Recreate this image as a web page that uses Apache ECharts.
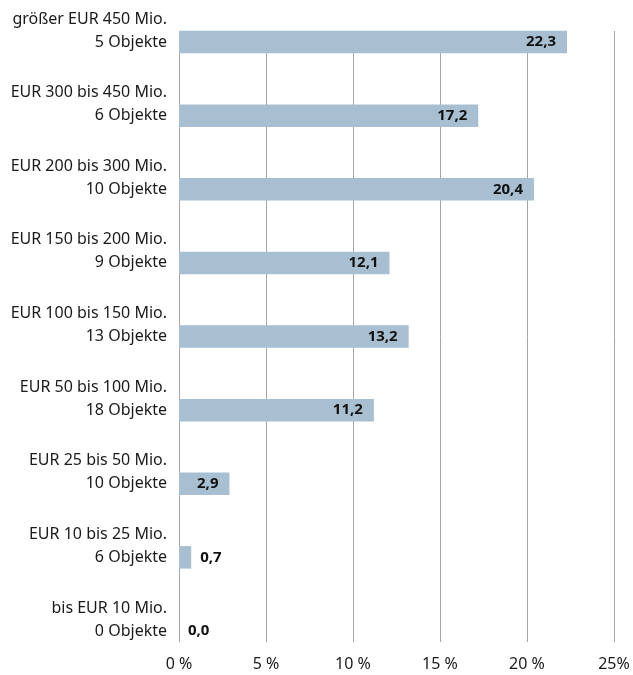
<!DOCTYPE html>
<html>
<head>
<meta charset="utf-8">
<script src="https://cdn.jsdelivr.net/npm/echarts@6/dist/echarts.min.js"></script>
<style>
  html, body { margin: 0; padding: 0; background: #ffffff; }
  #chart { width: 633px; height: 675px; }
</style>
</head>
<body>
<div id="chart"></div>
<script>
// Categories (top to bottom)
const rangeLabels = [
  'größer EUR 450 Mio.',
  'EUR 300 bis 450 Mio.',
  'EUR 200 bis 300 Mio.',
  'EUR 150 bis 200 Mio.',
  'EUR 100 bis 150 Mio.',
  'EUR 50 bis 100 Mio.',
  'EUR 25 bis 50 Mio.',
  'EUR 10 bis 25 Mio.',
  'bis EUR 10 Mio.'
];
const objectCounts = [5, 6, 10, 9, 13, 18, 10, 6, 0];
// Share in percent
const shareValues = [22.3, 17.2, 20.4, 12.1, 13.2, 11.2, 2.9, 0.7, 0.0];
// X axis tick labels
const xTickLabels = ['0 %', '5 %', '10 %', '15 %', '20 %', '25%'];

const categories = rangeLabels.map((r, i) => r + '\n' + objectCounts[i] + ' Objekte\n ');
const fmt = v => v.toFixed(1).replace('.', ',');

const gridColor = '#a6a6a6';
const fontFamily = '"Noto Sans", "Open Sans", sans-serif';

const chart = echarts.init(document.getElementById('chart'), null, { renderer: 'canvas' });

const barData = shareValues.map(v => {
  const outside = v < 2;
  return {
    value: v,
    label: outside
      ? { position: 'right', distance: 9 }
      : { position: 'insideRight', distance: 11 }
  };
});

const xBase = {
  type: 'value',
  min: 0,
  max: 25,
  interval: 5,
  axisLine: { show: false },
  axisTick: { show: true, length: 11, lineStyle: { color: gridColor, width: 1 } }
};

chart.setOption({
  animation: false,
  backgroundColor: '#ffffff',
  grid: { left: 179, right: 19, top: 42, bottom: 44, containLabel: false },
  xAxis: [
    Object.assign({}, xBase, {
      position: 'bottom',
      splitLine: { show: true, lineStyle: { color: gridColor, width: 1 } },
      axisLabel: {
        margin: 25,
        fontSize: 16,
        color: '#1a1a1a',
        fontFamily: fontFamily,
        formatter: (v) => xTickLabels[Math.round(v / 5)]
      }
    }),
    Object.assign({}, xBase, {
      position: 'top',
      splitLine: { show: false },
      axisLabel: { show: false }
    })
  ],
  yAxis: {
    type: 'category',
    inverse: true,
    boundaryGap: false,
    data: categories,
    axisLine: { show: false },
    axisTick: { show: false },
    splitLine: { show: false },
    axisLabel: {
      margin: 12,
      fontSize: 16,
      lineHeight: 23,
      color: '#1a1a1a',
      fontFamily: fontFamily,
      align: 'right',
      verticalAlign: 'middle'
    }
  },
  series: [{
    type: 'bar',
    xAxisIndex: 0,
    data: barData,
    barWidth: 22.5,
    itemStyle: { color: '#a7bfd1' },
    label: {
      show: true,
      fontSize: 15,
      fontWeight: 'bold',
      color: '#111111',
      fontFamily: fontFamily,
      formatter: p => fmt(p.value)
    }
  }]
});
</script>
</body>
</html>
